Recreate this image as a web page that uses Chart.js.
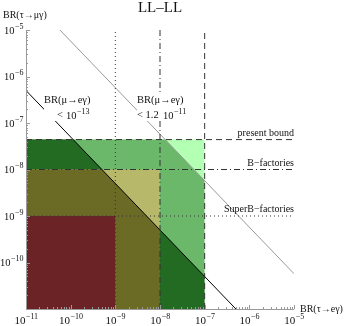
<!DOCTYPE html>
<html>
<head>
<meta charset="utf-8">
<script src="https://cdn.jsdelivr.net/npm/chart.js@4.4.1/dist/chart.umd.min.js"></script>
<style>
  html, body { margin: 0; padding: 0; background: #fff; }
  canvas { display: block; }
</style>
</head>
<body>
<canvas id="chart" width="354" height="326"></canvas>
<script>
// axis range (both axes logarithmic)
const axisMin = 1e-11;
const axisMax = 1e-5;
const xTickExps = [-11, -10, -9, -8, -7, -6, -5];
const yTickExps = [-10, -9, -8, -7, -6, -5];

// experimental bounds on BR(tau -> e gamma) (vertical) and BR(tau -> mu gamma) (horizontal)
const tauEBounds = [1e-9, 1e-8, 1e-7];
const tauMuBounds = [4.4e-8, 1e-8, 1e-9];
const boundLabels = ['present bound', 'B\u2212factories', 'SuperB\u2212factories'];

// BR(mu -> e gamma) contours
const lineMuE_1p2e11 = [[5.75e-11, 1e-5], [1e-5, 5.75e-11]];
const lineMuE_1e13 = [[1e-11, 5e-7], [5e-7, 1e-11]];

// top edges of the shaded regions (filled down to the axis)
const regionLightGreen = [[1e-11, 4.4e-8], [1e-7, 4.4e-8]];
const regionMidGreen = [[1e-11, 4.4e-8], [1.31e-8, 4.4e-8], [1e-7, 5.75e-9]];
const regionDarkGreen = [[1e-11, 4.4e-8], [1.14e-10, 4.4e-8], [1e-7, 5e-11]];
const regionLightOlive = [[1e-11, 1e-8], [1e-8, 1e-8]];
const regionOlive = [[1e-11, 1e-8], [5e-10, 1e-8], [1e-8, 5e-10]];
const regionRed = [[1e-11, 1e-9], [1e-9, 1e-9]];

const serif = "'Liberation Serif', 'DejaVu Serif', serif";
const pts = arr => arr.map(([x, y]) => ({ x, y }));

const vDash = [[1, 3], [6, 3, 1, 3], [6, 4]];
const hDash = [[6, 4], [6, 3, 1, 3], [1, 3]];

function area(data, color, order) {
  return {
    data: pts(data), showLine: true, fill: 'start', backgroundColor: color,
    borderColor: 'transparent', borderWidth: 0, pointRadius: 0, order
  };
}
function line(data, color, dash, order) {
  return {
    data: pts(data), showLine: true, fill: false, borderColor: color,
    borderWidth: 1, borderDash: dash, pointRadius: 0, order
  };
}

const datasets = [
  area(regionLightGreen, '#b3ffb3', 20),
  area(regionMidGreen, '#6bb86b', 19),
  area(regionDarkGreen, '#236b23', 18),
  area(regionLightOlive, '#b8b86b', 17),
  area(regionOlive, '#6b6b26', 16),
  area(regionRed, '#6b2326', 15),
  line(lineMuE_1p2e11, '#999', [], 5),
  line(lineMuE_1e13, '#000', [], 4)
];
tauEBounds.forEach((v, i) => {
  datasets.push(line([[v, axisMin], [v, axisMax]], '#333', vDash[i], 3));
});
tauMuBounds.forEach((v, i) => {
  datasets.push(line([[axisMin, v], [axisMax, v]], '#333', hDash[i], 3));
});

function drawPow(ctx, exp, x, y, align, size) {
  const base = '10', sup = '\u2212' + Math.abs(exp);
  const bs = size || 10, ss = Math.round(bs * 0.72);
  ctx.font = bs + 'px ' + serif;
  const wb = ctx.measureText(base).width;
  ctx.font = ss + 'px ' + serif;
  const ws = ctx.measureText(sup).width;
  let x0 = x;
  if (align === 'center') x0 = x - (wb + ws) / 2;
  if (align === 'right') x0 = x - (wb + ws);
  ctx.textAlign = 'left';
  ctx.textBaseline = 'alphabetic';
  ctx.font = bs + 'px ' + serif;
  ctx.fillText(base, x0, y);
  ctx.font = ss + 'px ' + serif;
  ctx.fillText(sup, x0 + wb + 0.5, y - bs * 0.45);
}

const overlay = {
  id: 'overlay',
  afterDraw(chart) {
    const { ctx, chartArea: a } = chart;
    const xs = chart.scales.x, ys = chart.scales.y;
    ctx.save();
    // axes
    ctx.strokeStyle = '#999';
    ctx.lineWidth = 1;
    ctx.beginPath();
    ctx.moveTo(a.left + 0.5, a.top);
    ctx.lineTo(a.left + 0.5, a.bottom + 0.5);
    ctx.lineTo(a.right, a.bottom + 0.5);
    ctx.stroke();
    // ticks
    ctx.beginPath();
    for (let d = -11; d <= -5; d++) {
      for (let m = 1; m <= 9; m++) {
        if (d === -5 && m > 1) break;
        const v = m * Math.pow(10, d);
        const len = m === 1 ? 4 : 2;
        const px = Math.round(xs.getPixelForValue(v)) + 0.5;
        ctx.moveTo(px, a.bottom);
        ctx.lineTo(px, a.bottom - len);
        const py = Math.round(ys.getPixelForValue(v)) + 0.5;
        ctx.moveTo(a.left, py);
        ctx.lineTo(a.left + len, py);
      }
    }
    ctx.stroke();

    ctx.fillStyle = '#111';
    xTickExps.forEach(e => drawPow(ctx, e, xs.getPixelForValue(Math.pow(10, e)), 324, 'center', 11));
    yTickExps.forEach(e => drawPow(ctx, e, 23, ys.getPixelForValue(Math.pow(10, e)) + 3.5, 'right', 10.5));

    // titles
    ctx.font = '15px ' + serif;
    ctx.textAlign = 'center';
    ctx.textBaseline = 'middle';
    ctx.fillText('LL\u2013LL', (a.left + a.right) / 2, 8);
    ctx.font = '10px ' + serif;
    ctx.textAlign = 'left';
    ctx.fillText('BR(\u03c4\u2192\u03bc\u03b3)', 3, 15);
    ctx.fillText('BR(\u03c4\u2192e\u03b3)', 300, a.bottom);

    // contour labels on white boxes
    ctx.fillStyle = '#fff';
    ctx.fillRect(44, 93, 52, 28);
    ctx.fillRect(137, 93, 50, 28);
    ctx.fillStyle = '#111';
    ctx.font = '10.5px ' + serif;
    ctx.textBaseline = 'middle';
    ctx.fillText('BR(\u03bc\u2192e\u03b3)', 44, 100);
    ctx.fillText('BR(\u03bc\u2192e\u03b3)', 137, 100);
    ctx.fillText('<', 57, 115);
    drawPow(ctx, -13, 66, 118.5, 'left', 10.5);
    ctx.font = '10.5px ' + serif;
    ctx.textBaseline = 'middle';
    ctx.fillText('< 1.2', 137, 115);
    drawPow(ctx, -11, 163, 118.5, 'left', 10.5);

    // bound labels
    ctx.font = '10px ' + serif;
    ctx.textAlign = 'right';
    ctx.textBaseline = 'middle';
    const labelY = [133, 163, 209];
    boundLabels.forEach((t, i) => ctx.fillText(t, a.right, labelY[i]));
    ctx.restore();
  }
};

new Chart(document.getElementById('chart'), {
  type: 'scatter',
  data: { datasets },
  options: {
    responsive: false,
    animation: false,
    layout: { padding: { left: 26, right: 60, top: 30, bottom: 17 } },
    plugins: { legend: { display: false }, tooltip: { enabled: false } },
    scales: {
      x: { type: 'logarithmic', min: axisMin, max: axisMax, display: false },
      y: { type: 'logarithmic', min: axisMin, max: axisMax, display: false }
    }
  },
  plugins: [overlay]
});
</script>
</body>
</html>
